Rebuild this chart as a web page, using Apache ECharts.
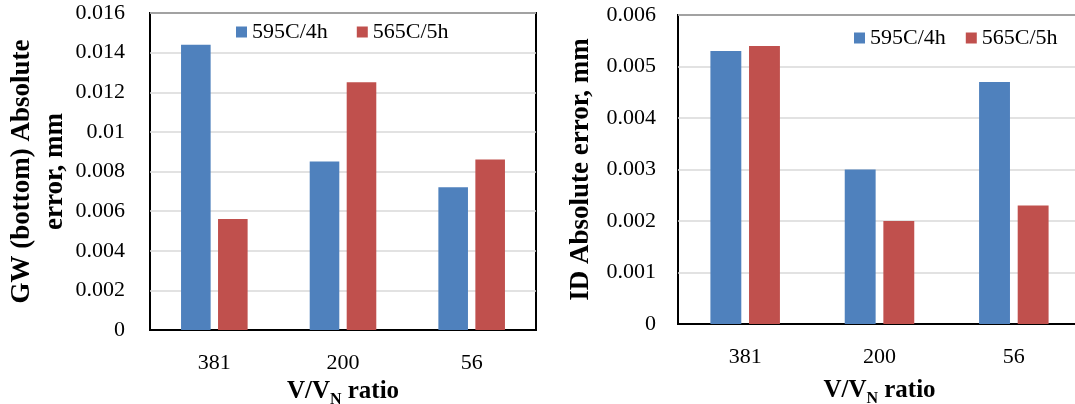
<!DOCTYPE html>
<html>
<head>
<meta charset="utf-8">
<script src="https://cdn.jsdelivr.net/npm/echarts@6/dist/echarts.min.js"></script>
<style>
html,body{margin:0;padding:0;background:#fff;}
#main{width:1075px;height:404px;}
</style>
</head>
<body>
<div id="main"></div>
<script>
var categories = ['381', '200', '56'];
var seriesNames = ['595C/4h', '565C/5h'];
var gwBlue = [0.0144, 0.0085, 0.0072];
var gwRed = [0.0056, 0.0125, 0.0086];
var idBlue = [0.0053, 0.0030, 0.0047];
var idRed = [0.0054, 0.0020, 0.0023];

var FONT = 'Liberation Serif';
var BLUE = '#4F81BD';
var RED = '#C0504D';

var chart = echarts.init(document.getElementById('main'), null, {renderer: 'canvas'});

function xAxisFor(gridIndex, nameGap) {
  return {
    type: 'category',
    gridIndex: gridIndex,
    data: categories,
    axisLine: {show: true, lineStyle: {color: '#000', width: 2}},
    axisTick: {show: false},
    axisLabel: {fontFamily: FONT, fontSize: 22, color: '#000', margin: 22},
    name: 'V/V{s|N} ratio',
    nameLocation: 'middle',
    nameGap: nameGap,
    nameTextStyle: {
      fontFamily: FONT, fontSize: 25, fontWeight: 'bold', color: '#000',
      rich: {
        s: {fontFamily: FONT, fontSize: 16, fontWeight: 'bold', color: '#000', padding: [16, 0, 0, 0]}
      }
    }
  };
}

function yAxisFor(gridIndex, max, interval, name, nameGap, lineHeight, margin) {
  return {
    type: 'value',
    gridIndex: gridIndex,
    min: 0,
    max: max,
    interval: interval,
    axisLine: {show: false},
    axisTick: {show: false},
    axisLabel: {fontFamily: FONT, fontSize: 22, color: '#000', margin: margin},
    splitLine: {show: true, lineStyle: {color: '#d9d9d9', width: 1.5}},
    name: name,
    nameLocation: 'middle',
    nameRotate: 90,
    nameGap: nameGap,
    nameTextStyle: {fontFamily: FONT, fontSize: 27, fontWeight: 'bold', color: '#000', lineHeight: lineHeight}
  };
}

function legendFor(left, top, gap, names) {
  return {
    left: left, top: top, itemWidth: 11, itemHeight: 11, itemGap: gap,
    icon: 'rect',
    data: names.map(function (n) { return {name: n}; }),
    formatter: function (n) { return n.trim(); },
    textStyle: {fontFamily: FONT, fontSize: 22, color: '#000'}
  };
}

var option = {
  backgroundColor: '#fff',
  animation: false,
  textStyle: {fontFamily: FONT, color: '#000'},
  grid: [
    {left: 150, top: 13, width: 386, height: 317, show: true, borderColor: '#000', borderWidth: 2,
     backgroundColor: 'transparent', containLabel: false, outerBoundsMode: 'none'},
    {left: 678, top: 15, width: 403, height: 309, show: true, borderColor: '#000', borderWidth: 2,
     backgroundColor: 'transparent', containLabel: false, outerBoundsMode: 'none'}
  ],
  legend: [
    legendFor(231, 16, 29, [seriesNames[0], seriesNames[1]]),
    legendFor(849, 22, 20, [seriesNames[0] + ' ', seriesNames[1] + ' '])
  ],
  xAxis: [xAxisFor(0, 44), xAxisFor(1, 51)],
  yAxis: [
    yAxisFor(0, 0.016, 0.002, 'GW (bottom) Absolute\nerror, mm', 77, 33, 25),
    yAxisFor(1, 0.006, 0.001, 'ID Absolute error, mm', 82, 30, 22)
  ],
  series: [
    {name: seriesNames[0], type: 'bar', xAxisIndex: 0, yAxisIndex: 0, data: gwBlue,
     barWidth: '23%', barGap: '25%', itemStyle: {color: BLUE}},
    {name: seriesNames[1], type: 'bar', xAxisIndex: 0, yAxisIndex: 0, data: gwRed,
     barWidth: '23%', barGap: '25%', itemStyle: {color: RED}},
    {name: seriesNames[0] + ' ', type: 'bar', xAxisIndex: 1, yAxisIndex: 1, data: idBlue,
     barWidth: '23%', barGap: '25%', itemStyle: {color: BLUE}},
    {name: seriesNames[1] + ' ', type: 'bar', xAxisIndex: 1, yAxisIndex: 1, data: idRed,
     barWidth: '23%', barGap: '25%', itemStyle: {color: RED}}
  ]
};
chart.setOption(option);
</script>
</body>
</html>
